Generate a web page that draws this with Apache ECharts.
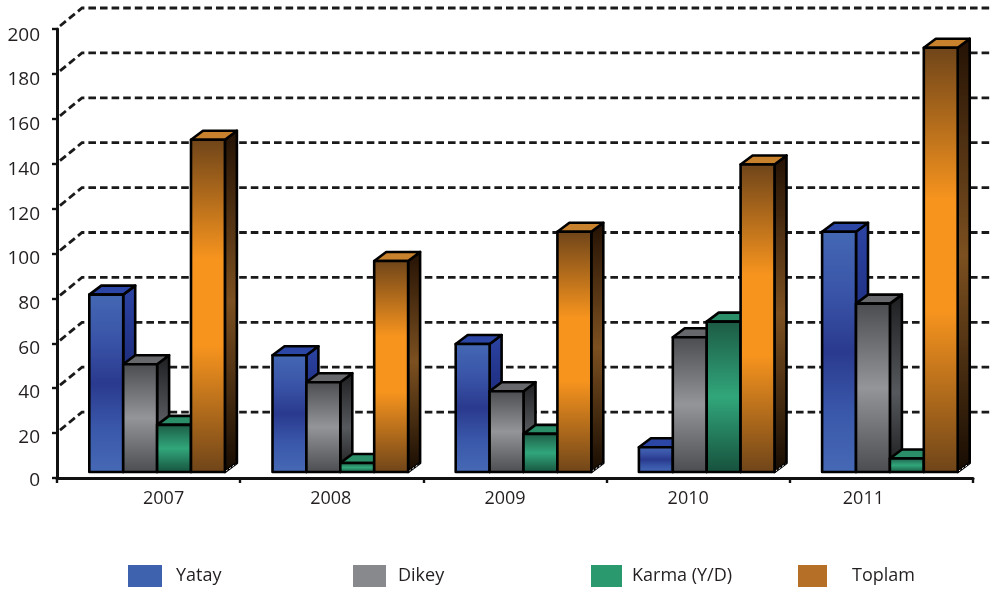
<!DOCTYPE html>
<html>
<head>
<meta charset="utf-8">
<title>Yatay Dikey Karma</title>
<script src="https://cdn.jsdelivr.net/npm/echarts@6/dist/echarts.min.js"></script>
<style>
    html, body { margin: 0; padding: 0; background: #fff; }
    #chart { width: 990px; height: 594px; }
</style>
</head>
<body>
<div id="chart"></div>
<script>
const years = ["2007", "2008", "2009", "2010", "2011"];
const yatay = [79, 52, 57, 11, 107];
const dikey = [48, 40, 36, 60, 75];
const karma = [21, 4, 17, 67, 6];
const toplam = [148, 94, 107, 137, 189];
const gridValues = [20, 40, 60, 80, 100, 120, 140, 160, 180, 200];

// the year labels sit off-centre in the reference, the value labels drift below their ticks
const yearShift = [15, -1, -10, -10, -18];
const valueDrop = { 0: 1, 20: 2, 40: 2, 60: 3, 80: 3, 100: 3, 120: 4, 140: 4, 160: 4, 180: 4, 200: 5 };

const fontFamily = "'Open Sans', sans-serif";
const textColor = "#231f20";

const barWidth = 33.9;
const barShift = 8.5;
const floorLift = 6;
const depthX = 12;
const depthY = 9;

function vertical(stops) {
    return {
        type: "linear", x: 0, y: 0, x2: 0, y2: 1,
        colorStops: stops.map(([offset, color]) => ({ offset, color })),
    };
}

const looks = [
    {
        name: "Yatay", values: yatay, swatch: "#3f62ae", left: 128, textGap: 9, swatchWidth: 34,
        top: "#2c46a6",
        front: [[0, "#4468b4"], [0.25, "#3a55a8"], [0.5, "#2a3a8e"], [0.75, "#3a58aa"], [1, "#4669b5"]],
        side: [[0, "#2c44a4"], [0.5, "#1c2a78"], [1, "#141c58"]],
    },
    {
        name: "Dikey", values: dikey, swatch: "#88898d", left: 353, textGap: 7, swatchWidth: 33,
        top: "#66686c",
        front: [[0, "#4a4c50"], [0.5, "#939599"], [1, "#4a4c50"]],
        side: [[0, "#1c1d1f"], [0.55, "#56595d"], [1, "#18191a"]],
    },
    {
        name: "Karma (Y/D)", values: karma, swatch: "#2a9a6e", left: 591, textGap: 5, swatchWidth: 31,
        top: "#2a8e68",
        front: [[0, "#1c5a44"], [0.5, "#31a67b"], [1, "#16503c"]],
        side: [[0, "#10382a"], [0.5, "#1c6a50"], [1, "#0c2a20"]],
    },
    {
        name: "Toplam", values: toplam, swatch: "#b56f26", left: 798, textGap: 20, swatchWidth: 29,
        top: "#c8812c",
        front: [[0, "#6e4419"], [0.36, "#f7941e"], [0.62, "#f7941e"], [1, "#6e4419"]],
        side: [[0, "#231104"], [0.5, "#7c5020"], [1, "#160b02"]],
    },
];

function renderBar(look, seriesIndex, params, api) {
    const category = api.value(0);
    const base = api.coord([category, 0]);
    const tip = api.coord([category, api.value(1)]);

    const x0 = base[0] + barShift - 2 * barWidth + seriesIndex * barWidth;
    const x1 = x0 + barWidth;
    const y0 = base[1] - floorLift;
    const y1 = tip[1] - floorLift;
    const edge = { stroke: "#000", lineWidth: 2.6, lineJoin: "round" };

    return {
        type: "group",
        children: [
            {
                type: "polygon",
                shape: { points: [[x1, y1], [x1 + depthX, y1 - depthY], [x1 + depthX, y0 - depthY], [x1, y0]] },
                style: { fill: vertical(look.side), ...edge },
            },
            {
                type: "line",
                shape: { x1: x1 + 1, y1: y0 - 1, x2: x1 + depthX - 1, y2: y0 - depthY + 1 },
                style: { stroke: "#fff", lineWidth: 1, lineDash: [2, 2] },
            },
            {
                type: "polygon",
                shape: { points: [[x0, y1], [x0 + depthX, y1 - depthY], [x1 + depthX, y1 - depthY], [x1, y1]] },
                style: { fill: look.top, ...edge },
            },
            {
                type: "rect",
                shape: { x: x0, y: y1, width: barWidth, height: y0 - y1 },
                style: { fill: vertical(look.front), ...edge },
            },
        ],
    };
}

function renderGridLine(params, api) {
    const y = api.coord([0, api.value(0)])[1];
    const x = params.coordSys.x;
    const right = x + params.coordSys.width + 17;
    return {
        type: "polyline",
        shape: { points: [[x + 3, y - 3], [x + 25, y - 21], [right, y - 21]] },
        style: { fill: null, stroke: "#1a1a1a", lineWidth: 2.8, lineDash: [7.6, 4] },
    };
}

const yearRich = {};
years.forEach((year, i) => {
    const shift = yearShift[i] * 2;
    yearRich["y" + year] = {
        fontFamily, fontSize: 18, color: textColor,
        padding: shift > 0 ? [0, 0, 0, shift] : [0, -shift, 0, 0],
    };
});

const valueRich = {};
Object.keys(valueDrop).forEach((value) => {
    valueRich["v" + value] = {
        fontFamily, fontSize: 19, color: textColor,
        lineHeight: 2 * (valueDrop[value] + 2),
    };
});

const series = [
    {
        type: "custom",
        name: "grid",
        silent: true,
        z: 1,
        renderItem: renderGridLine,
        data: gridValues.map((v) => [v]),
        encode: { y: 0 },
    },
];
looks.forEach((look, seriesIndex) => {
    series.push({
        type: "custom",
        name: look.name,
        silent: true,
        z: 2 + seriesIndex,
        itemStyle: { color: look.swatch },
        renderItem: (params, api) => renderBar(look, seriesIndex, params, api),
        data: look.values.map((v, i) => [i, v]),
        encode: { x: 0, y: 1 },
    });
});

const legends = looks.map((look) => ({
    data: [{ name: look.name, icon: "rect" }],
    left: look.left,
    top: 565,
    padding: 0,
    itemWidth: look.swatchWidth,
    itemHeight: 22,
    selectedMode: false,
    textStyle: {
        fontFamily, fontSize: 18, color: textColor,
        padding: [0, 0, 0, look.textGap],
    },
}));

const chart = echarts.init(document.getElementById("chart"), null, { renderer: "canvas" });
chart.setOption({
    animation: false,
    backgroundColor: "#fff",
    grid: { left: 57, right: 17, top: 29, bottom: 116 },
    legend: legends,
    xAxis: {
        type: "category",
        data: years,
        axisLine: { lineStyle: { color: "#111", width: 3 } },
        axisTick: { show: true, length: 5, alignWithLabel: false, lineStyle: { color: "#111", width: 2.4 } },
        axisLabel: {
            margin: 12,
            interval: 0,
            formatter: (value) => `{y${value}|${value}}`,
            rich: yearRich,
        },
        splitLine: { show: false },
    },
    yAxis: {
        type: "value",
        min: 0,
        max: 200,
        interval: 20,
        axisLine: { show: true, lineStyle: { color: "#111", width: 3 } },
        axisTick: { show: true, length: 5, lineStyle: { color: "#111", width: 2.4 } },
        axisLabel: {
            margin: 17,
            verticalAlign: "top",
            formatter: (value) => `{v${value}|${value}}`,
            rich: valueRich,
        },
        splitLine: { show: false },
    },
    series,
});
</script>
</body>
</html>
